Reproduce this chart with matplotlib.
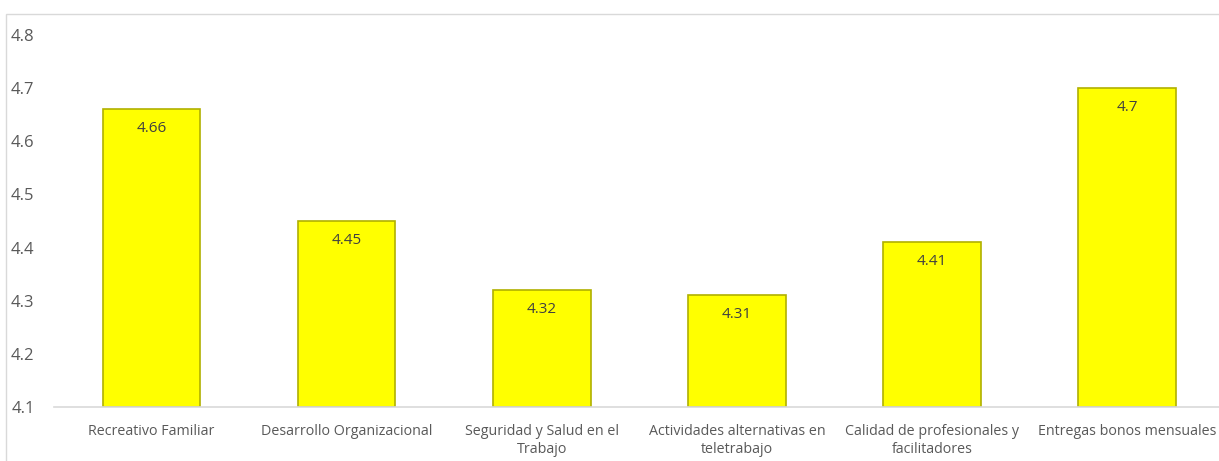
import matplotlib.pyplot as plt
from matplotlib.patches import Rectangle

categories = ['Recreativo Familiar', 'Desarrollo Organizacional',
              'Seguridad y Salud en el\nTrabajo', 'Actividades alternativas en\nteletrabajo',
              'Calidad de profesionales y\nfacilitadores', 'Entregas bonos mensuales']
values = [4.66, 4.45, 4.32, 4.31, 4.41, 4.7]
value_labels = ['4.66', '4.45', '4.32', '4.31', '4.41', '4.7']
y_ticks = [4.1, 4.2, 4.3, 4.4, 4.5, 4.6, 4.7, 4.8]

plt.rcParams['font.family'] = ['Open Sans', 'DejaVu Sans']

fig = plt.figure(figsize=[12.19, 4.61], dpi=100)
ax = fig.add_axes([54 / 1219, 1 - 407 / 461, 1165 / 1219, (407 - 35) / 461])

# chart frame
fig.patches.append(Rectangle((6 / 1219, -0.1), 1.5, 1 - 14 / 461 + 0.1,
                             transform=fig.transFigure, fill=False,
                             edgecolor='#d9d9d9', linewidth=1))

x = range(len(categories))
ax.bar(x, [v - 4.1 for v in values], bottom=4.1, width=0.5,
       color='#ffff00', edgecolor='#b0b000', linewidth=1.2)

for i, v in enumerate(values):
    ax.text(i, v - 0.022, value_labels[i], ha='center', va='top',
            fontsize=11, color='#404040')

ax.set_xlim(-0.5, len(categories) - 0.5 - 0.03)
ax.set_ylim(4.1, 4.8)
ax.set_yticks(y_ticks)
ax.set_yticklabels([str(t) for t in y_ticks])
ax.set_xticks(list(x))
ax.set_xticklabels(categories, fontsize=10.3, color='#595959', linespacing=1.3)

for s in ['top', 'right', 'left']:
    ax.spines[s].set_visible(False)
ax.spines['bottom'].set_color('#d9d9d9')
ax.spines['bottom'].set_linewidth(1.2)
ax.tick_params(axis='x', length=0, pad=12)
ax.tick_params(axis='y', length=0, labelsize=12, labelcolor='#595959', pad=14)

fig.savefig('out.png', dpi=100)
